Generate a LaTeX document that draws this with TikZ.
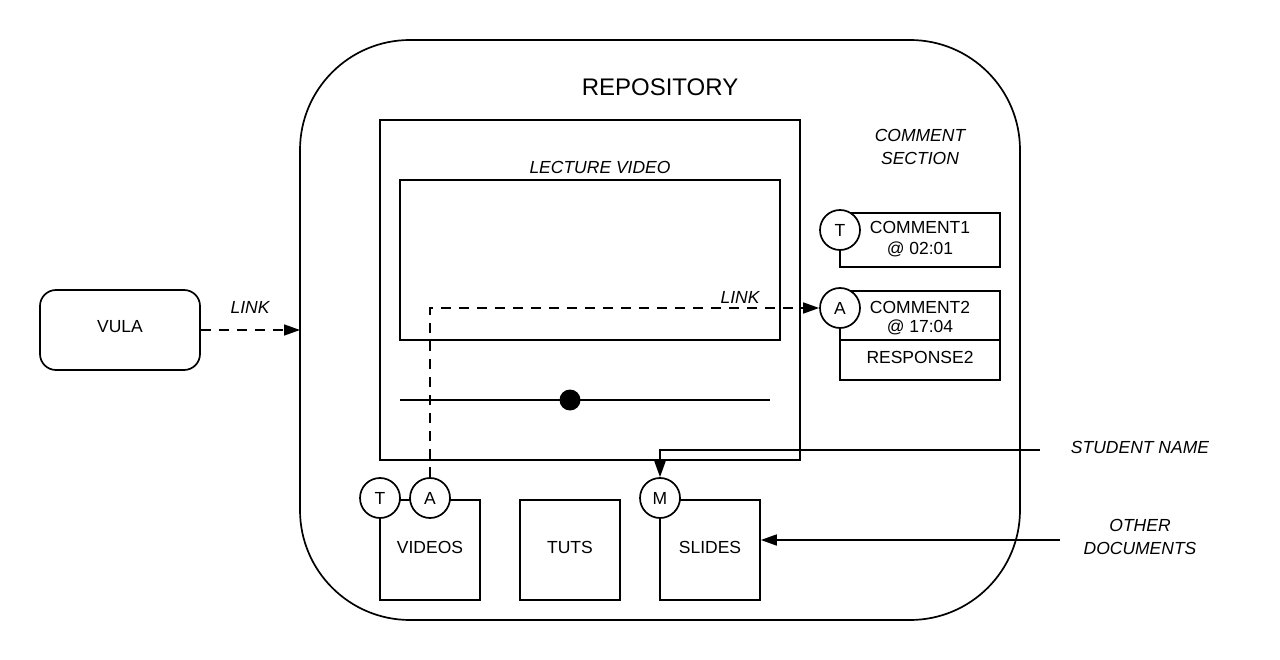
\documentclass[tikz,border=0pt]{standalone}
\usepackage{fontspec}
\setmainfont{Liberation Sans}
\usetikzlibrary{arrows.meta}
\begin{document}
\begin{tikzpicture}[x=1pt,y=-1pt,
  line width=1.7pt,
  box/.style={draw,line width=1.7pt},
  circ/.style={draw,fill=white,circle,minimum size=40pt,inner sep=0pt,line width=1.7pt,font=\fontsize{17.5}{20}\selectfont},
  txt/.style={font=\fontsize{17.5}{20}\selectfont,align=center,inner sep=0pt},
  itxt/.style={font=\fontsize{17.5}{20}\selectfont\itshape,align=center,inner sep=0pt},
  dashln/.style={dash pattern=on 10pt off 8pt,line width=1.7pt},
  tip/.style={-{Triangle[length=16pt,width=11pt]}}
]
\useasboundingbox (0,0) rectangle (1280,660);
% repository
\draw[rounded corners=110pt] (300,40) rectangle (1020,620);
\node[txt,font=\fontsize{24}{28}\selectfont] (repo) at (660,87) {REPOSITORY};
% player
\node[box,minimum width=420pt,minimum height=340pt,inner sep=0pt] (player) at (590,290) {};
\node[itxt] (lv) at (600,167) {LECTURE VIDEO};
\node[box,minimum width=380pt,minimum height=160pt,inner sep=0pt] (screen) at (590,260) {};
\coordinate (tl) at (400,400);
\coordinate (tr) at (770,400);
\draw (tl) -- (tr);
\node[circle,fill=black,minimum size=21pt,inner sep=0pt] (knob) at (570,400) {};
% comments
\node[itxt] (cs) at (920,147) {COMMENT\\[3pt]SECTION};
\node[box,minimum width=160pt,minimum height=54pt,inner sep=0pt] (c1) at (920,240) {};
\node[txt] (c1a) at (920,227) {COMMENT1};
\node[txt] (c1b) at (920,249) {@ 02:01};
\node[circ] (cT) at (840,230) {T};
\node[box,minimum width=160pt,minimum height=49pt,inner sep=0pt] (c2) at (920,315.5) {};
\node[txt] (c2a) at (920,307) {COMMENT2};
\node[txt] (c2b) at (920,327) {@ 17:04};
\node[box,minimum width=160pt,minimum height=40pt,inner sep=0pt] (r2) at (920,360) {};
\node[txt] (r2a) at (920,357) {RESPONSE2};
\node[circ] (cA) at (840,308) {A};
% bottom boxes
\node[box,minimum width=100pt,minimum height=100pt,inner sep=0pt] (videos) at (430,550) {};
\node[txt] (vt) at (430,547) {VIDEOS};
\node[circ] (vT) at (380,498) {T};
\node[circ] (vA) at (430,498) {A};
\node[box,minimum width=100pt,minimum height=100pt,inner sep=0pt] (tuts) at (570,550) {};
\node[txt] (tt) at (570,547) {TUTS};
\node[box,minimum width=100pt,minimum height=100pt,inner sep=0pt] (slides) at (710,550) {};
\node[txt] (st) at (710,547) {SLIDES};
\node[circ] (sM) at (660,498) {M};
% VULA
\node[draw,rounded corners=16pt,minimum width=160pt,minimum height=80pt,inner sep=0pt] (vula) at (120,330) {};
\node[txt] (vl) at (120,327) {VULA};
\coordinate (repoL) at (300,330);
\draw[dashln,tip] (vula.east) -- (repoL);
\node[itxt] (l1) at (250,307) {LINK};
% internal link
\coordinate (bend) at (vA.north |- cA.west);
\draw[dashln,tip] (vA.north) -- (bend) -- (cA.west);
\node[itxt] (l2) at (740,297) {LINK};
% student name
\node[itxt] (sn) at (1140,447) {STUDENT NAME};
\coordinate (snS) at (1040,450);
\coordinate (snB) at (660,450);
\draw[tip] (snS) -- (snB) -- (sM.north);
% other documents
\node[itxt] (od) at (1140,537) {OTHER\\[3pt]DOCUMENTS};
\coordinate (odS) at (1060,540);
\coordinate (odE) at (slides.east |- odS);
\draw[tip] (odS) -- (odE);
\end{tikzpicture}
\end{document}
